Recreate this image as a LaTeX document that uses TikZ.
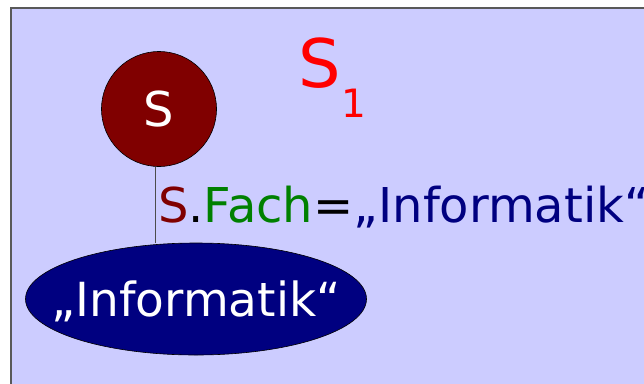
\documentclass[tikz,border=0pt]{standalone}
\usepackage{fontspec}
\setmainfont{DejaVu Sans}
\usetikzlibrary{shapes.geometric}
\definecolor{bgc}{HTML}{CCCCFF}
\definecolor{dred}{HTML}{800000}
\definecolor{dgreen}{HTML}{008000}
\definecolor{navyc}{HTML}{000080}
\definecolor{redc}{HTML}{FF0000}
\tikzset{
  txt/.style={inner sep=0pt, anchor=base west},
  big/.style={font=\fontsize{48}{58}\selectfont},
}
\begin{document}
\begin{tikzpicture}[x=1pt,y=-1pt]
\useasboundingbox (0,0) rectangle (644,383);
\clip (0,0) rectangle (644,383);
\fill[white] (0,0) rectangle (644,383);
\draw[fill=bgc, draw=black!65, line width=1.2pt] (11,8) rectangle (700,430);
\node[circle, fill=dred, draw=black, line width=0.6pt, minimum size=115pt, inner sep=0pt, text=white, big] (circ) at (159,109) {S};
\node[ellipse, fill=navyc, draw=black, line width=0.6pt, minimum width=341pt, minimum height=112pt, inner sep=0pt] (ell) at (196,299) {};
\node[inner sep=0pt, anchor=base, text=white, font=\fontsize{47}{56}\selectfont] (elltxt) at (196,316) {„Informatik“};
\draw[black!70, line width=0.8pt] (circ.-94) -- (circ.-94 |- ell.north);
\node[txt, big] (lbl) at (158,222) {\textcolor{dred}{S}.\textcolor{dgreen}{Fach}=\textcolor{navyc}{„Informatik“}};
\node[txt, text=redc, font=\fontsize{67}{80}\selectfont] (s1) at (298,87) {S};
\node[txt, text=redc, font=\fontsize{39}{47}\selectfont] (s1sub) at (341,117) {1};
\end{tikzpicture}
\end{document}
